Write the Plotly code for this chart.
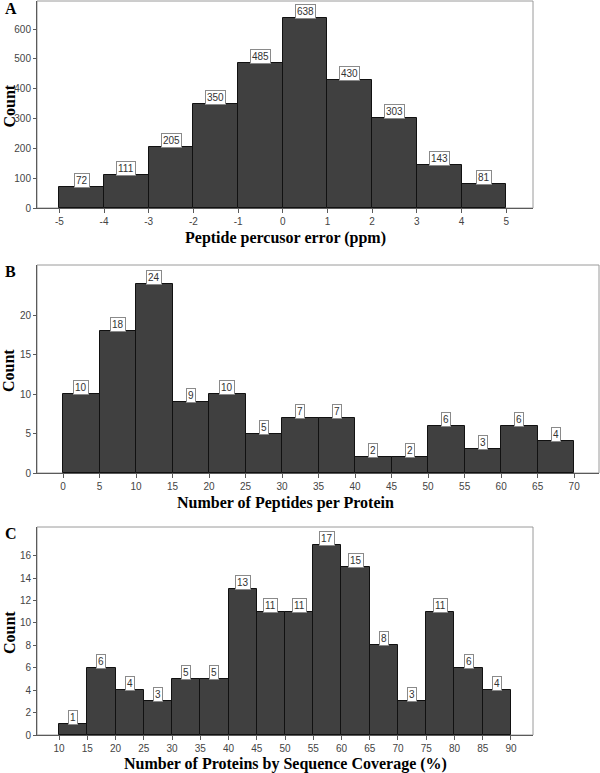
import plotly.graph_objects as go

# ---------------- data ----------------
a_edges = [-5, -4, -3, -2, -1, 0, 1, 2, 3, 4, 5]
a_counts = [72, 111, 205, 350, 485, 638, 430, 303, 143, 81]

b_edges = [0, 5, 10, 15, 20, 25, 30, 35, 40, 45, 50, 55, 60, 65, 70]
b_counts = [10, 18, 24, 9, 10, 5, 7, 7, 2, 2, 6, 3, 6, 4]

c_edges = [10, 15, 20, 25, 30, 35, 40, 45, 50, 55, 60, 65, 70, 75, 80, 85, 90]
c_counts = [1, 6, 4, 3, 5, 5, 13, 11, 11, 17, 15, 8, 3, 11, 6, 4]

a_yticks = [0, 100, 200, 300, 400, 500, 600]
b_yticks = [0, 5, 10, 15, 20]
c_yticks = [0, 2, 4, 6, 8, 10, 12, 14, 16]

panel_letters = ["A", "B", "C"]
x_titles = ["Peptide percusor error (ppm)",
            "Number of Peptides per Protein",
            "Number of Proteins by Sequence Coverage (%)"]
y_title = "Count"

W, H = 600, 773
BAR = "#404040"
FRAME = "#9a9a9a"
AXIS = "#5a5a5a"
TICKFONT = dict(family="Liberation Sans, Arial, sans-serif", size=10, color="#444444")
SERIF = "Liberation Serif, Times New Roman, serif"

def py(p):
    return 1 - p / H

panels = [
    dict(edges=a_edges, counts=a_counts, yticks=a_yticks, xd=(37, 533), yd=(1, 208),
         xr=[-5.5, 5.6], yr=[0, 694], ly=8, ty=238),
    dict(edges=b_edges, counts=b_counts, yticks=b_yticks, xd=(37, 599), yd=(265, 473),
         xr=[-3.56, 73.4], yr=[0, 26.35], ly=271, ty=503),
    dict(edges=c_edges, counts=c_counts, yticks=c_yticks, xd=(37, 533), yd=(527, 735),
         xr=[6.1, 93.9], yr=[0, 18.57], ly=533, ty=764),
]

fig = go.Figure()
annotations = []
shapes = []

for i, p in enumerate(panels):
    n = i + 1
    xa = "x" if n == 1 else f"x{n}"
    ya = "y" if n == 1 else f"y{n}"
    edges, counts = p["edges"], p["counts"]
    centers = [(edges[k] + edges[k + 1]) / 2 for k in range(len(counts))]
    widths = [edges[k + 1] - edges[k] for k in range(len(counts))]
    fig.add_trace(go.Bar(x=centers, y=counts, width=widths, xaxis=xa, yaxis=ya,
                         marker=dict(color=BAR, line=dict(color="#111111", width=1)),
                         showlegend=False, hoverinfo="x+y"))
    xkey = "xaxis" if n == 1 else f"xaxis{n}"
    ykey = "yaxis" if n == 1 else f"yaxis{n}"
    fig.update_layout(**{
        xkey: dict(domain=[p["xd"][0] / W, p["xd"][1] / W], range=p["xr"], anchor=ya,
                   tickmode="array", tickvals=edges, ticktext=[str(e) for e in edges], automargin=False,
                   showgrid=False, zeroline=False, showline=True, linecolor=AXIS, linewidth=1,
                   ticks="outside", ticklen=4, tickcolor=AXIS, tickfont=TICKFONT, fixedrange=True),
        ykey: dict(domain=[py(p["yd"][1]), py(p["yd"][0])], range=p["yr"], anchor=xa,
                   tickmode="array", tickvals=p["yticks"], ticktext=[str(t) for t in p["yticks"]],
                   automargin=False,
                   showgrid=False, zeroline=False, showline=True, linecolor=AXIS, linewidth=1,
                   ticks="outside", ticklen=3, tickcolor=AXIS, tickfont=TICKFONT, fixedrange=True),
    })
    shapes.append(dict(type="rect", xref=f"{xa} domain", yref=f"{ya} domain",
                       x0=0, x1=1, y0=0, y1=1, line=dict(color=FRAME, width=1), layer="below"))
    for cx, cnt in zip(centers, counts):
        annotations.append(dict(x=cx, y=cnt, xref=xa, yref=ya, text=str(cnt), showarrow=False,
                                yanchor="bottom", yshift=-1,
                                font=dict(family="Liberation Sans, Arial, sans-serif", size=10, color="#333333"),
                                bgcolor="white", bordercolor="#8a8a8a", borderwidth=1, borderpad=1))
    annotations.append(dict(x=3 / W, y=py(p["ly"]), xref="paper", yref="paper", text=f"<b>{panel_letters[i]}</b>",
                            showarrow=False, xanchor="left", yanchor="middle",
                            font=dict(family=SERIF, size=16, color="black")))
    annotations.append(dict(x=9 / W, y=py((p["yd"][0] + p["yd"][1]) / 2 + 2), xref="paper", yref="paper",
                            text=f"<b>{y_title}</b>", textangle=-90, showarrow=False,
                            xanchor="center", yanchor="middle",
                            font=dict(family=SERIF, size=16, color="black")))
    annotations.append(dict(x=(37 + 533) / 2 / W, y=py(p["ty"]), xref="paper", yref="paper",
                            text=f"<b>{x_titles[i]}</b>", showarrow=False,
                            xanchor="center", yanchor="middle",
                            font=dict(family=SERIF, size=16, color="black")))

fig.update_layout(width=W, height=H, margin=dict(l=0, r=0, t=0, b=0, autoexpand=False),
                  paper_bgcolor="white", plot_bgcolor="white",
                  annotations=annotations, shapes=shapes, bargap=0)

fig.write_html("out.html", config={"displayModeBar": False},
               post_script="document.body.style.margin='0px';document.body.style.overflow='hidden';")
